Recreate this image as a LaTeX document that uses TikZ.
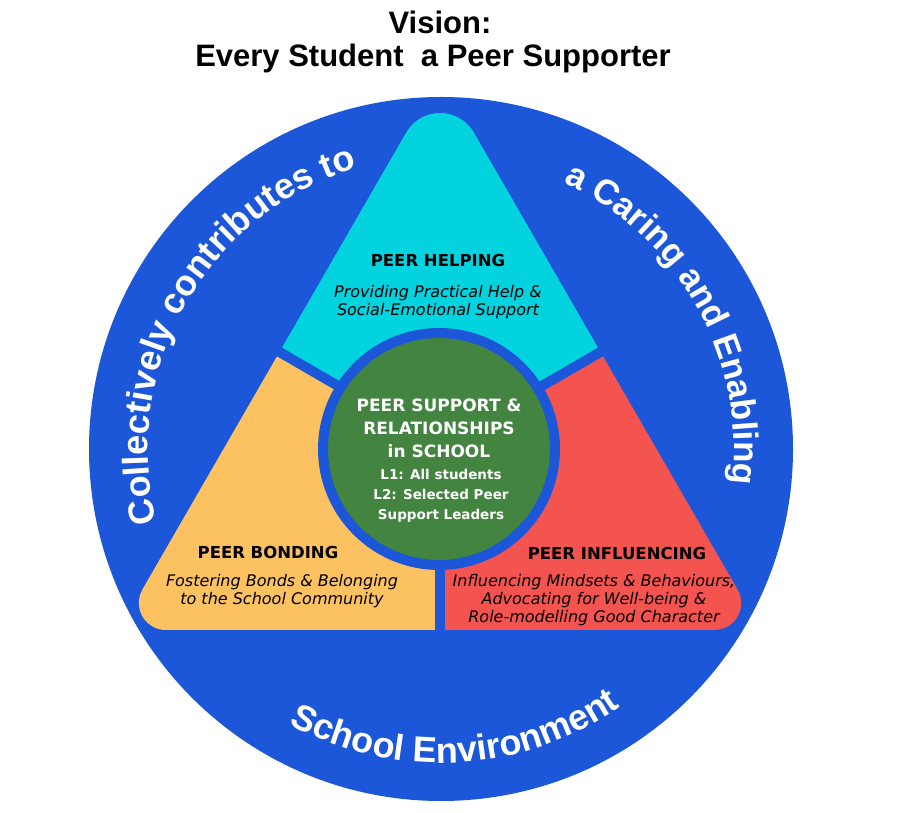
\documentclass[tikz,border=0pt]{standalone}
\usepackage{fontspec}
\setmainfont{DejaVu Sans}
\newfontfamily\titlefont{Liberation Sans}
\newfontfamily\ringfont{Liberation Sans}
\usetikzlibrary{calc,decorations.text}
\definecolor{ringblue}{RGB}{27,87,216}
\definecolor{helpcyan}{RGB}{3,211,222}
\definecolor{bondorange}{RGB}{252,193,96}
\definecolor{influred}{RGB}{244,84,80}
\definecolor{coregreen}{RGB}{67,133,64}
\tikzset{
  titletext/.style={font=\titlefont\bfseries\fontsize{31}{36}\selectfont, inner sep=0},
  headtext/.style={font=\bfseries\fontsize{16.5}{19}\selectfont, inner sep=0, text=black},
  desctext/.style={font=\itshape\fontsize{16}{18}\selectfont, inner sep=0, align=center, text=black},
  coretext/.style={font=\bfseries\fontsize{17}{23}\selectfont, inner sep=0, align=center, text=white},
  leveltext/.style={font=\bfseries\fontsize{13.5}{20}\selectfont, inner sep=0, align=center, text=white},
  separator/.style={draw=ringblue, line width=10pt},
  ringtext/.style={decorate, decoration={text along path, text align=center, text color=white, text={#1}}}
}
\begin{document}
\begin{tikzpicture}[x=1pt,y=1pt]
\useasboundingbox (0,0) rectangle (912,813);
\fill[white] (0,0) rectangle (912,813);
% title
\node[titletext] (vision) at (440,791) {Vision:};
\node[titletext] (tagline) at (433,755) {Every Student\ \ a Peer Supporter};
% outer ring
\coordinate (O) at (441,364);
\fill[ringblue] (O) circle (352);
% triangle geometry
\coordinate (G) at (440,368);
\coordinate (A) at (440,739);
\coordinate (B) at (119,183);
\coordinate (C) at (761,183);
\coordinate (Ml) at (279.5,461);
\coordinate (Mr) at (600.5,461);
\coordinate (Mb) at (440,183);
\begin{scope}
\clip (165.8,183) -- (714.2,183) arc[start angle=-90,end angle=30,radius=27]
  -- (473.8,680.5) arc[start angle=30,end angle=150,radius=39]
  -- (142.4,223.5) arc[start angle=150,end angle=270,radius=27] -- cycle;
\fill[helpcyan] (G) -- ($(G)!3!(Ml)$) -- ($(G)!2!(A)$) -- ($(G)!3!(Mr)$) -- cycle;
\fill[bondorange] (G) -- ($(G)!3!(Ml)$) -- ($(G)!2!(B)$) -- ($(G)!3!(Mb)$) -- cycle;
\fill[influred] (G) -- ($(G)!3!(Mb)$) -- ($(G)!2!(C)$) -- ($(G)!3!(Mr)$) -- cycle;
\end{scope}
\path[separator] (G) -- ($(G)!1.1!(Ml)$);
\path[separator] (G) -- ($(G)!1.1!(Mr)$);
\path[separator] (G) -- ($(G)!1.1!(Mb)$);
% core circle
\node[circle, fill=coregreen, draw=ringblue, line width=10pt, minimum size=232pt, inner sep=0] (core) at (439,364) {};
\node[coretext] (coretitle) at (439,385) {PEER SUPPORT \&\\RELATIONSHIPS\\in SCHOOL};
\node[leveltext] (corelevels) at (441,317) {L1: All students\\L2: Selected Peer\\Support Leaders};
% segment texts
\node[headtext] (helphead) at (438,552) {PEER HELPING};
\node[desctext] (helpdesc) at (438,511) {Providing Practical Help \&\\Social-Emotional Support};
\node[headtext] (bondhead) at (268,261) {PEER BONDING};
\node[desctext] (bonddesc) at (282,222) {Fostering Bonds \& Belonging\\to the School Community};
\node[headtext] (influhead) at (617,260) {PEER INFLUENCING};
\node[desctext] (infludesc) at (594,213) {Influencing Mindsets \& Behaviours,\\Advocating for Well-being \&\\Role-modelling Good Character};
% ring texts
\path[ringtext={|\ringfont\bfseries\fontsize{36}{42}\selectfont|Collectively contributes to}]
  ($(O)+(210.5:293)$) arc[start angle=210.5, end angle=90.5, radius=293];
\path[ringtext={|\ringfont\bfseries\fontsize{35}{42}\selectfont|a Caring and Enabling}]
  ($(O)+(89.25:293)$) arc[start angle=89.25, end angle=-30.75, radius=293];
\path[ringtext={|\ringfont\bfseries\fontsize{36}{42}\selectfont|School Environment}]
  ($(O)+(213:314)$) arc[start angle=213, end angle=333, radius=314];
\end{tikzpicture}
\end{document}
